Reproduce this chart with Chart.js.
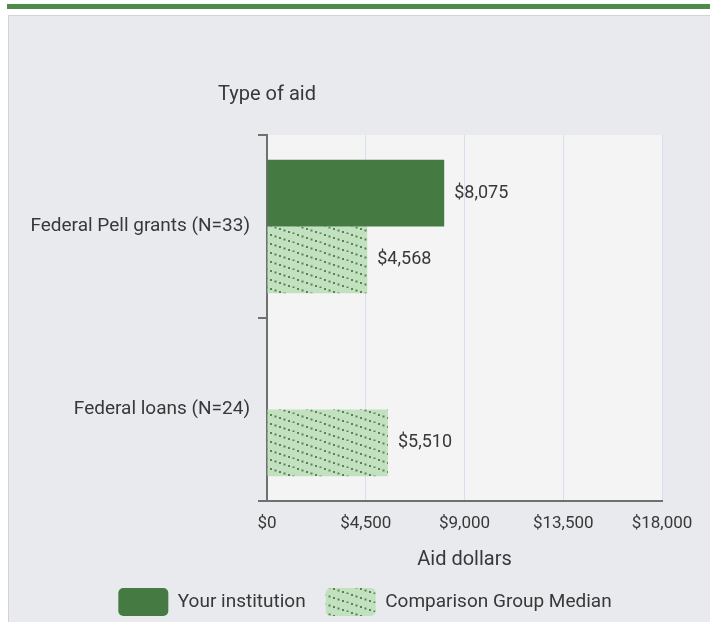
<!DOCTYPE html>
<html>
<head>
<meta charset="utf-8">
<script src="https://cdn.jsdelivr.net/npm/chart.js@4/dist/chart.umd.min.js"></script>
<style>
  html, body { margin: 0; padding: 0; width: 710px; height: 622px; overflow: hidden; background: #fff; }
  .topbar { position: absolute; left: 7px; top: 4px; width: 703px; height: 5px; background: #4f8a4b; }
  .panel  { position: absolute; left: 8px; top: 15px; right: 0; bottom: 0; background: #e9eaee;
            border-top: 1px solid #d2d3d6; border-left: 1px solid #d2d3d6; }
  canvas  { position: absolute; left: 0; top: 0; }
</style>
</head>
<body>
<div class="topbar"></div>
<div class="panel"></div>
<canvas id="chart" width="710" height="626"></canvas>
<script>
// --- data ---
const CATEGORIES    = ['Federal Pell grants (N=33)', 'Federal loans (N=24)'];
const SERIES_NAMES  = ['Your institution', 'Comparison Group Median'];
const YOUR_VALUES   = [8075, null];
const MEDIAN_VALUES = [4568, 5510];
const X_TICKS       = [0, 4500, 9000, 13500, 18000];
const Y_TITLE = 'Type of aid';
const X_TITLE = 'Aid dollars';

const FONT = 'Roboto';
const TEXT = '#383838';

// dotted diagonal hatch for the comparison bars
function makeHatch() {
  const c = document.createElement('canvas');
  c.width = 27; c.height = 9;
  const g = c.getContext('2d');
  g.fillStyle = '#c3e1c1';
  g.fillRect(0, 0, 27, 9);
  g.fillStyle = '#4f8a4c';
  for (let i = 0; i < 6; i++) {
    const x = i * 4.5;
    g.fillRect(x, x / 3, 2, 2);
  }
  return g.createPattern(c, 'repeat');
}
const hatch = makeHatch();

const plotBg = {
  id: 'plotBg',
  beforeDraw(chart) {
    const { ctx, chartArea: a } = chart;
    ctx.save();
    ctx.fillStyle = '#f4f4f4';
    ctx.fillRect(a.left, a.top, a.right - a.left, a.bottom - a.top);
    ctx.restore();
  },
};

// legend sits a bit right of the canvas centre
const legendShift = {
  id: 'legendShift',
  afterLayout(chart) {
    chart.legend.left += 34;
    chart.legend.right += 34;
  },
};

const yTitle = {
  id: 'yTitle',
  afterDraw(chart) {
    const { ctx, chartArea: a } = chart;
    ctx.save();
    ctx.font = `20px ${FONT}`;
    ctx.fillStyle = TEXT;
    ctx.textAlign = 'center';
    ctx.textBaseline = 'middle';
    ctx.fillText(Y_TITLE, a.left, 95);
    ctx.restore();
  },
};

const valueLabels = {
  id: 'valueLabels',
  afterDatasetsDraw(chart) {
    const { ctx } = chart;
    ctx.save();
    ctx.font = `18px ${FONT}`;
    ctx.fillStyle = TEXT;
    ctx.textAlign = 'left';
    ctx.textBaseline = 'middle';
    chart.data.datasets.forEach((ds, di) => {
      chart.getDatasetMeta(di).data.forEach((bar, i) => {
        const v = ds.data[i];
        if (v == null) return;
        ctx.fillText('$' + v.toLocaleString('en-US'), bar.x + 10, bar.y);
      });
    });
    ctx.restore();
  },
};

new Chart(document.getElementById('chart'), {
  type: 'bar',
  data: {
    labels: CATEGORIES,
    datasets: [
      { label: SERIES_NAMES[0], data: YOUR_VALUES, backgroundColor: '#457a43', borderWidth: 0 },
      { label: SERIES_NAMES[1], data: MEDIAN_VALUES, backgroundColor: hatch, borderWidth: 0 },
    ],
  },
  options: {
    indexAxis: 'y',
    responsive: false,
    animation: false,
    devicePixelRatio: 1,
    categoryPercentage: 0.73,
    barPercentage: 1,
    layout: { padding: { top: 135, left: 0, right: 48, bottom: 0 } },
    plugins: {
      tooltip: { enabled: false },
      legend: {
        position: 'bottom',
        labels: {
          boxWidth: 50, boxHeight: 28, padding: 20,
          useBorderRadius: true, borderRadius: 5,
          color: TEXT, font: { family: FONT, size: 19 },
        },
      },
    },
    scales: {
      x: {
        min: 0, max: 18000,
        afterBuildTicks: (s) => { s.ticks = X_TICKS.map((v) => ({ value: v })); },
        afterFit: (s) => { s.height = 67; },
        grid: { color: '#d8def0', drawTicks: false },
        border: { color: '#707070', width: 2 },
        ticks: {
          padding: 13, color: TEXT, font: { family: FONT, size: 17 },
          callback: (v) => '$' + Number(v).toLocaleString('en-US'),
        },
        title: { display: true, text: X_TITLE, color: TEXT, font: { family: FONT, size: 20 }, padding: { top: 0, bottom: -4 } },
      },
      y: {
        afterFit: (s) => { s.width = 267; },
        grid: { drawOnChartArea: false, tickLength: 9, color: '#707070', lineWidth: 2 },
        border: { color: '#707070', width: 2 },
        ticks: { padding: 8, color: TEXT, font: { family: FONT, size: 19 } },
      },
    },
  },
  plugins: [plotBg, legendShift, yTitle, valueLabels],
});
</script>
</body>
</html>
